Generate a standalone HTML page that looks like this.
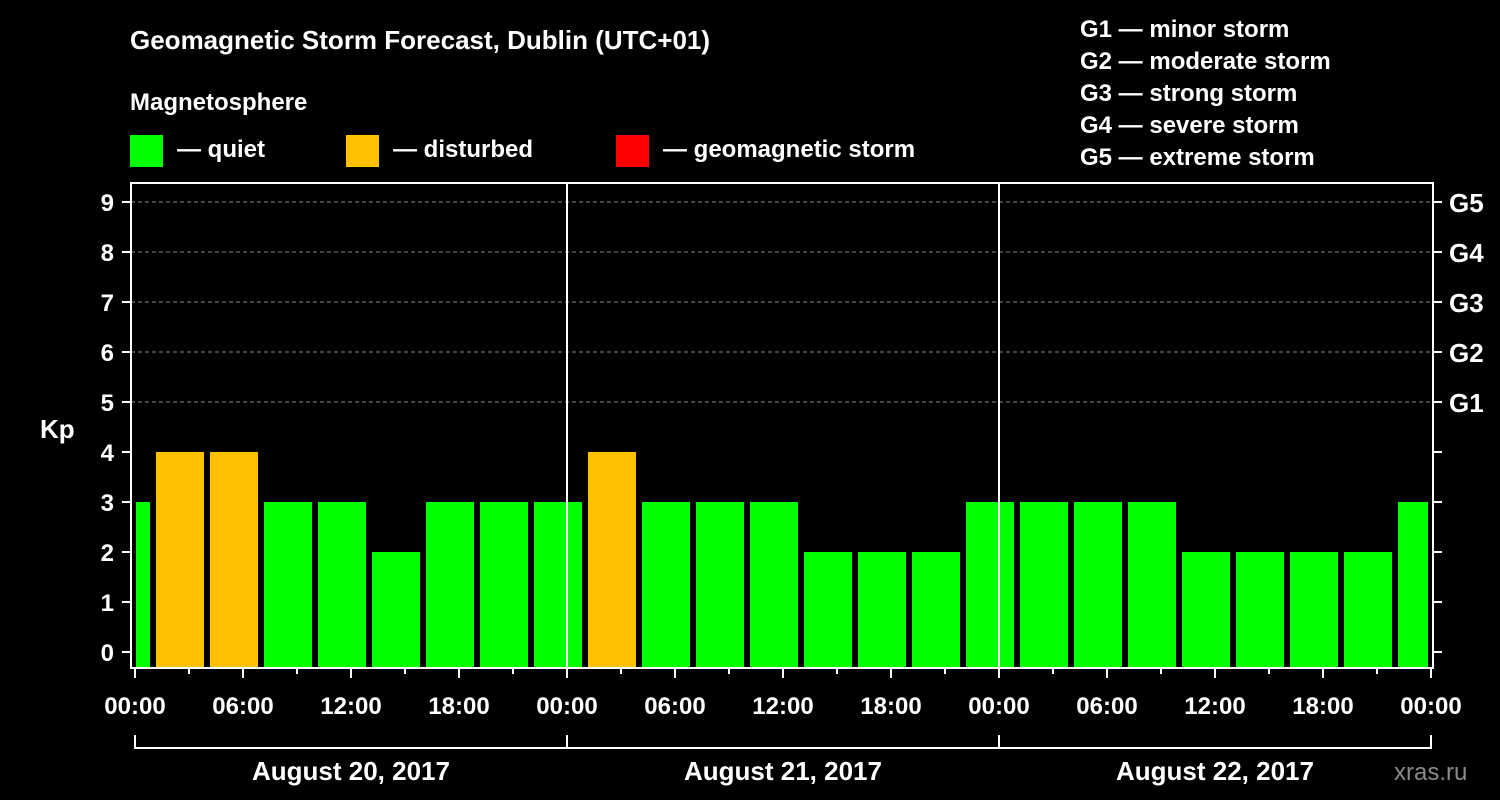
<!DOCTYPE html>
<html><head><meta charset="utf-8"><style>
body{margin:0;background:#000;width:1500px;height:800px;overflow:hidden}
svg{display:block}
text{font-family:"Liberation Sans",Arial,sans-serif;font-weight:bold;fill:#fff}
</style></head><body>
<svg id="c" width="1500" height="800" xmlns="http://www.w3.org/2000/svg">
<text x="130" y="49" font-size="26">Geomagnetic Storm Forecast, Dublin (UTC+01)</text>
<text x="130" y="110" font-size="24">Magnetosphere</text>
<g><rect x="130" y="135" width="33" height="32" fill="#00ff00"/><text x="177" y="157" font-size="24">— quiet</text></g>
<g><rect x="346" y="135" width="33" height="32" fill="#ffc000"/><text x="393" y="157" font-size="24">— disturbed</text></g>
<g><rect x="616" y="135" width="33" height="32" fill="#ff0000"/><text x="663" y="157" font-size="24">— geomagnetic storm</text></g>
<g font-size="24">
<text x="1080" y="37">G1 — minor storm</text>
<text x="1080" y="69">G2 — moderate storm</text>
<text x="1080" y="101">G3 — strong storm</text>
<text x="1080" y="133">G4 — severe storm</text>
<text x="1080" y="165">G5 — extreme storm</text>
</g>
<text x="40" y="438" font-size="26">Kp</text>
<text x="1394" y="780" font-size="24" fill="#888" style="fill:#8a8a8a;font-weight:normal">xras.ru</text>
<g id="grid"></g><g id="bars"></g><g id="axes"></g>
</svg>
<script>
const kpValues=[3,4,4,3,3,2,3,3,3,4,3,3,3,2,2,2,3,3,3,3,2,2,2,2,3];
const yTicks=[0,1,2,3,4,5,6,7,8,9];
const gLabels=["","","","","","G1","G2","G3","G4","G5"];
const xTickLabels=["00:00","06:00","12:00","18:00","00:00","06:00","12:00","18:00","00:00","06:00","12:00","18:00","00:00"];
const dayLabels=["August 20, 2017","August 21, 2017","August 22, 2017"];
const firstSlotHour=-2, slotHours=3, totalHours=72;
const X0=135,X1=1431,L=131,R=1433,T=183,B=668;
const xs=h=>X0+(X1-X0)*h/totalHours;
const ys=v=>652-50*v;
const NS="http://www.w3.org/2000/svg";
function mk(tag,attrs,parent){const e=document.createElementNS(NS,tag);for(const k in attrs)e.setAttribute(k,attrs[k]);parent.appendChild(e);return e;}
const grid=document.getElementById('grid'),bars=document.getElementById('bars'),axes=document.getElementById('axes');
yTicks.forEach((v,i)=>{
 if(v>=5){const l=mk('line',{x1:L,x2:R,y1:ys(v),y2:ys(v),stroke:'#888','stroke-dasharray':'4,3','stroke-width':1},grid);
 
 }
 const t=mk('line',{x1:122,x2:L,y1:ys(v),y2:ys(v),stroke:'#fff','stroke-width':2},axes);
 
 
 const t2=mk('line',{x1:R,x2:1442,y1:ys(v),y2:ys(v),stroke:'#fff','stroke-width':2},axes);
 
 
 const tx=mk('text',{x:114,y:ys(v)+9,'font-size':24,'text-anchor':'end'},axes);tx.textContent=v;
 
 
 if(gLabels[i]){const g=mk('text',{x:1449,y:ys(v)+10,'font-size':26},axes);g.textContent=gLabels[i];
 
 }
});
kpValues.forEach((v,i)=>{
 const h0=firstSlotHour+i*slotHours;
 let x0=xs(h0)+3,x1=xs(h0+slotHours)-3;
 x0=Math.max(x0,X0+1);x1=Math.min(x1,R-5);
 const col=v>=5?'#ff0000':(v>=4?'#ffc000':'#00ff00');
 const r=mk('rect',{x:x0,y:ys(v),width:x1-x0,height:B-ys(v),fill:col},bars);
 
 
});
[1,2].forEach(d=>{const l=mk('line',{x1:xs(d*24),x2:xs(d*24),y1:T,y2:B,stroke:'#fff','stroke-width':2},axes);
 
 });
const fr=mk('rect',{x:L,y:T,width:R-L,height:B-T,fill:'none',stroke:'#fff','stroke-width':2},axes);


for(let h=0;h<=totalHours;h+=3){
 const long=h%6===0;
 const t=mk('line',{x1:xs(h),x2:xs(h),y1:B,y2:long?678:674,stroke:'#fff','stroke-width':2},axes);
 
 
}
xTickLabels.forEach((s,i)=>{const t=mk('text',{x:xs(i*6),y:714,'font-size':24,'text-anchor':'middle'},axes);t.textContent=s;
 
 });
dayLabels.forEach((s,i)=>{
 const a=xs(i*24),b=xs((i+1)*24);
 const p=mk('path',{d:`M${a} 735V748H${b}V735`,fill:'none',stroke:'#fff','stroke-width':2},axes);
 
 
 const t=mk('text',{x:(a+b)/2,y:780,'font-size':26,'text-anchor':'middle'},axes);t.textContent=s;
 
 
});
</script>
</body></html>
